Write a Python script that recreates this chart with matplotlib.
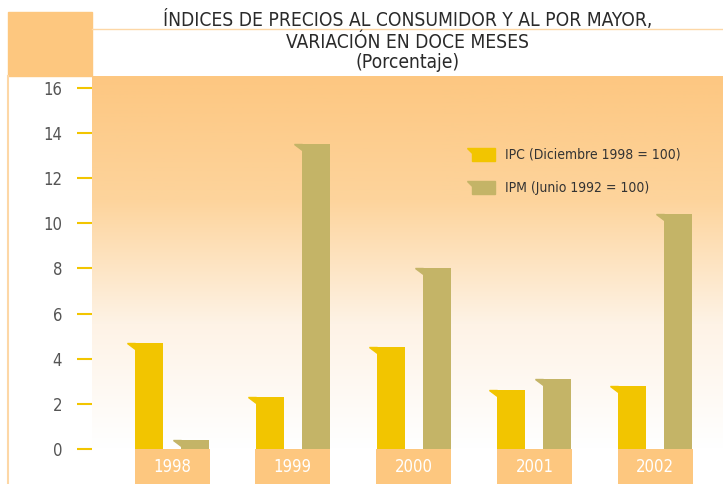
# Indices de precios: IPC vs IPM, variacion en doce meses

import numpy as np
import matplotlib
matplotlib.use("Agg")
import matplotlib.pyplot as plt
from matplotlib.colors import LinearSegmentedColormap
from matplotlib.patches import Polygon, Rectangle
from matplotlib.lines import Line2D

# data
years = ['1998', '1999', '2000', '2001', '2002']
ipc = [4.7, 2.3, 4.5, 2.6, 2.8]
ipm = [0.4, 13.5, 8.0, 3.1, 10.4]
yticks = [0, 2, 4, 6, 8, 10, 12, 14, 16]
title_lines = ['ÍNDICES DE PRECIOS AL CONSUMIDOR Y AL POR MAYOR,',
               'VARIACIÓN EN DOCE MESES',
               '(Porcentaje)']
legend_labels = ['IPC (Diciembre 1998 = 100)', 'IPM (Junio 1992 = 100)']

# colours
c_ipc = '#F2C500'
c_ipm = '#C4B467'
c_box = '#FDC77F'
c_line = '#FDD7A6'

plt.rcParams['font.family'] = ['DejaVu Sans']
plt.rcParams['font.stretch'] = 'condensed'

W, H = 723, 484
def fx(x): return x / W
def fy(y): return 1 - y / H

fig = plt.figure(figsize=(W / 100, H / 100), dpi=100)

# layout in pixels
x0, x1 = 92, 723
y_zero, y_top, y16 = 449, 76, 88
px_per_unit = (y_zero - y16) / 16.0
ymax = (y_zero - y_top) / px_per_unit
gap = 120.8          # px between year groups
first = 172          # px centre of first group
xmin = -(first - x0) / gap
xmax = (x1 - first) / gap

ax = fig.add_axes([fx(x0), fy(y_zero), (x1 - x0) / W, (y_zero - y_top) / H])
ax.set_xlim(xmin, xmax)
ax.set_ylim(0, ymax)

# background gradient orange -> white
cmap = LinearSegmentedColormap.from_list('bg', ['#FFFFFF', '#FEF3E6', '#FDD49C', '#FDC781'])
grad = np.linspace(0, 1, 256).reshape(-1, 1)
ax.imshow(grad, extent=[xmin, xmax, 0, ymax], origin='lower', aspect='auto', cmap=cmap, zorder=0)

x = np.arange(len(years))
bw = 28 / gap
off = 0.19
dx = 8 / gap
dy = 6 / px_per_unit

for xs, vals, col in [(x - off, ipc, c_ipc), (x + off, ipm, c_ipm)]:
    ax.bar(xs, vals, width=bw, color=col, zorder=2)
    for xc, v in zip(xs, vals):
        left = xc - bw / 2
        ax.add_patch(Polygon([(left - dx, v), (left, v), (left, v - dy)],
                             closed=True, color=col, zorder=2))

# year boxes under the axis
box_h = (H - y_zero) / px_per_unit
boxes = ax.bar(x, -box_h, width=75 / gap, bottom=0, color=c_box, zorder=3)
for b in boxes:
    b.set_clip_on(False)
for xc, yr in zip(x, years):
    ax.text(xc, -box_h / 2, yr, ha='center', va='center', color='white',
            fontsize=12, clip_on=False, zorder=4)

for s in ax.spines.values():
    s.set_visible(False)
ax.set_xticks([])
ax.set_yticks(yticks)
ax.tick_params(axis='y', length=10.5, width=1.5, color=c_ipc, pad=11,
               labelsize=12, labelcolor='#555555')

# frame pieces
fig.add_artist(Line2D([fx(8), fx(8)], [fy(76), fy(484)], color=c_line, lw=1.5))
fig.add_artist(Rectangle((fx(8), fy(76)), 84 / W, 64 / H, color=c_box))
fig.add_artist(Line2D([fx(92), fx(723)], [fy(29), fy(29)], color=c_line, lw=1))

for t, yy in zip(title_lines, [20, 42, 62]):
    fig.text(fx(407.5), fy(yy), t, ha='center', va='center', fontsize=13.8, color='#2a2a2a')

# legend
for i, (lab, col) in enumerate(zip(legend_labels, [c_ipc, c_ipm])):
    top = 148 + 33 * i
    fig.add_artist(Polygon([(fx(467), fy(top)), (fx(495), fy(top)), (fx(495), fy(top + 13)),
                            (fx(472), fy(top + 13)), (fx(472), fy(top + 5))],
                           closed=True, color=col))
    fig.text(fx(505), fy(top + 7), lab, ha='left', va='center', fontsize=10, color='#333333')

plt.savefig('out.png', dpi=100)
